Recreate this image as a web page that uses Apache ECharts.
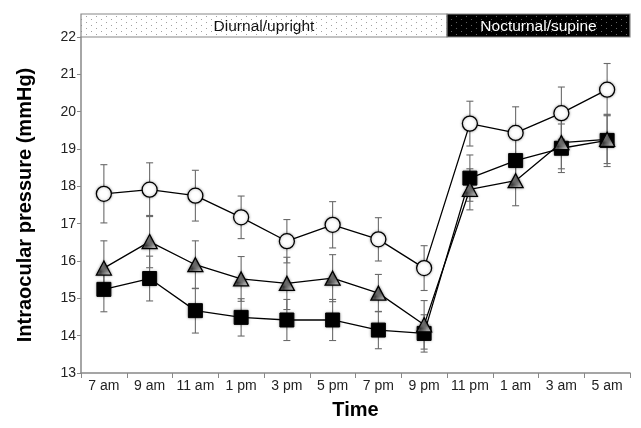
<!DOCTYPE html>
<html>
<head>
<meta charset="utf-8">
<script src="https://cdn.jsdelivr.net/npm/echarts@6/dist/echarts.min.js"></script>
<style>
html,body{margin:0;padding:0;background:#fff;}
#chart{width:641px;height:428px;}
</style>
</head>
<body>
<div id="chart"></div>
<script>
const categories = ['7 am','9 am','11 am','1 pm','3 pm','5 pm','7 pm','9 pm','11 pm','1 am','3 am','5 am'];
const circleMean = [17.80,17.91,17.75,17.17,16.53,16.97,16.58,15.81,19.68,19.43,19.96,20.59];
const circleSD   = [0.78,0.72,0.68,0.57,0.58,0.62,0.58,0.60,0.60,0.70,0.70,0.70];
const triMean    = [15.81,16.52,15.90,15.52,15.40,15.54,15.14,14.29,17.92,18.15,19.17,19.26];
const triSD      = [0.73,0.70,0.64,0.60,0.70,0.63,0.50,0.65,0.55,0.67,0.70,0.65];
const sqMean     = [15.24,15.53,14.67,14.49,14.42,14.42,14.15,14.06,18.22,18.69,19.02,19.23];
const sqSD       = [0.60,0.60,0.60,0.50,0.55,0.55,0.50,0.50,0.62,0.60,0.65,0.70];
const yMin = 13, yMax = 22, yInterval = 1;
const bannerLabels = ['Diurnal/upright', 'Nocturnal/supine'];
const nightStartIndex = 8; // '11 pm'
const FONT = 'Liberation Sans, Arial, sans-serif';

function makeHatch() {
  const c = document.createElement('canvas');
  c.width = 5; c.height = 5;
  const g = c.getContext('2d');
  g.fillStyle = '#ffffff'; g.fillRect(0,0,5,5);
  g.strokeStyle = '#3a3a3a'; g.lineWidth = 1.4;
  g.beginPath();
  g.moveTo(0,5); g.lineTo(5,0);
  g.moveTo(-1,1); g.lineTo(1,-1);
  g.moveTo(4,6); g.lineTo(6,4);
  g.stroke();
  return c;
}
function makeDots(bg, dot) {
  const c = document.createElement('canvas');
  c.width = 10; c.height = 6;
  const g = c.getContext('2d');
  g.fillStyle = bg; g.fillRect(0,0,10,6);
  g.fillStyle = dot;
  g.fillRect(1,1,1,1); g.fillRect(6,4,1,1);
  return c;
}

function errData(mean, sd) {
  return mean.map((m, i) => [i, m - sd[i], m + sd[i]]);
}
function errRender(params, api) {
  const x = api.value(0);
  const lo = api.coord([x, api.value(1)]);
  const hi = api.coord([x, api.value(2)]);
  const cap = 3.5;
  const st = { stroke: '#6a6a6a', lineWidth: 1.1 };
  return {
    type: 'group',
    children: [
      { type: 'line', shape: { x1: lo[0], y1: lo[1], x2: hi[0], y2: hi[1] }, style: st },
      { type: 'line', shape: { x1: lo[0]-cap, y1: lo[1], x2: lo[0]+cap, y2: lo[1] }, style: st },
      { type: 'line', shape: { x1: hi[0]-cap, y1: hi[1], x2: hi[0]+cap, y2: hi[1] }, style: st }
    ]
  };
}

const chart = echarts.init(document.getElementById('chart'), null, { renderer: 'canvas' });
const hatch = makeHatch();
const shadow = { shadowBlur: 3, shadowColor: 'rgba(0,0,0,0.35)' };

chart.setOption({
  animation: false,
  textStyle: { fontFamily: FONT },
  grid: { left: 81, right: 11, top: 37, bottom: 55 },
  xAxis: {
    type: 'category',
    data: categories,
    boundaryGap: true,
    name: 'Time',
    nameLocation: 'middle',
    nameGap: 27,
    nameTextStyle: { fontSize: 20, fontWeight: 'bold', color: '#000', fontFamily: FONT },
    axisLine: { lineStyle: { color: '#888', width: 1.5 } },
    axisTick: { show: true, length: 5, lineStyle: { color: '#888' } },
    axisLabel: { interval: 0, fontSize: 14, color: '#222', margin: 6, fontFamily: FONT },
    splitLine: { show: false }
  },
  yAxis: {
    type: 'value',
    min: yMin, max: yMax, interval: yInterval,
    name: 'Intraocular pressure (mmHg)',
    nameLocation: 'middle',
    nameGap: 46,
    nameTextStyle: { fontSize: 20, fontWeight: 'bold', color: '#000', fontFamily: FONT },
    axisLine: { show: true, lineStyle: { color: '#888', width: 1.5 } },
    axisTick: { show: true, length: 4, lineStyle: { color: '#888' } },
    axisLabel: { fontSize: 14, color: '#222', margin: 5, fontFamily: FONT },
    splitLine: { show: false }
  },
  series: [
    { type: 'custom', name: 'sqErr', renderItem: errRender, data: errData(sqMean, sqSD), z: 1, encode: { x: 0, y: [1, 2] } },
    { type: 'custom', name: 'triErr', renderItem: errRender, data: errData(triMean, triSD), z: 1, encode: { x: 0, y: [1, 2] } },
    { type: 'custom', name: 'circErr', renderItem: errRender, data: errData(circleMean, circleSD), z: 1, encode: { x: 0, y: [1, 2] } },
    {
      type: 'line', name: 'Square', data: sqMean, z: 3,
      symbol: 'rect', symbolSize: 14, showAllSymbol: true,
      lineStyle: { color: '#000', width: 1.3 },
      itemStyle: Object.assign({ color: '#000', borderColor: '#000', borderWidth: 1 }, shadow)
    },
    {
      type: 'line', name: 'Triangle', data: triMean, z: 4,
      symbol: 'triangle', symbolSize: [15, 14], showAllSymbol: true,
      lineStyle: { color: '#000', width: 1.3 },
      itemStyle: Object.assign({ color: { image: hatch, repeat: 'repeat' }, borderColor: '#000', borderWidth: 1.3 }, shadow)
    },
    {
      type: 'line', name: 'Circle', data: circleMean, z: 5,
      symbol: 'circle', symbolSize: 15, showAllSymbol: true,
      lineStyle: { color: '#000', width: 1.3 },
      itemStyle: Object.assign({ color: '#fff', borderColor: '#000', borderWidth: 1.3 }, shadow)
    }
  ]
});

// Banner above the plot, positioned from the axes
(function () {
  const xa = chart.convertToPixel({ xAxisIndex: 0 }, 0);
  const xb = chart.convertToPixel({ xAxisIndex: 0 }, 1);
  const band = xb - xa;
  const bLeft = xa - band / 2;
  const bRight = chart.convertToPixel({ xAxisIndex: 0 }, categories.length - 1) + band / 2;
  const bSplit = chart.convertToPixel({ xAxisIndex: 0 }, nightStartIndex) - band / 2;
  const bBottom = chart.convertToPixel({ yAxisIndex: 0 }, yMax);
  const bH = 23;
  const bTop = bBottom - bH;

  chart.setOption({
    graphic: [
      { type: 'rect', shape: { x: bLeft, y: bTop, width: bSplit - bLeft, height: bH },
        style: { fill: { image: makeDots('#fff', '#a0a0a0'), repeat: 'repeat' }, stroke: '#888', lineWidth: 1.2 }, z: 10 },
      { type: 'rect', shape: { x: bSplit, y: bTop, width: bRight - bSplit, height: bH },
        style: { fill: { image: makeDots('#000', '#666'), repeat: 'repeat' }, stroke: '#888', lineWidth: 1.2 }, z: 10 },
      { type: 'text', x: (bLeft + bSplit) / 2, y: bTop + bH / 2 + 1, z: 11,
        style: { text: bannerLabels[0], fill: '#111', font: '15.5px "Liberation Sans", Arial, sans-serif', textAlign: 'center', textVerticalAlign: 'middle' } },
      { type: 'text', x: (bSplit + bRight) / 2, y: bTop + bH / 2 + 1, z: 11,
        style: { text: bannerLabels[1], fill: '#fff', font: '15.5px "Liberation Sans", Arial, sans-serif', textAlign: 'center', textVerticalAlign: 'middle' } }
    ]
  });
})();
</script>
</body>
</html>
